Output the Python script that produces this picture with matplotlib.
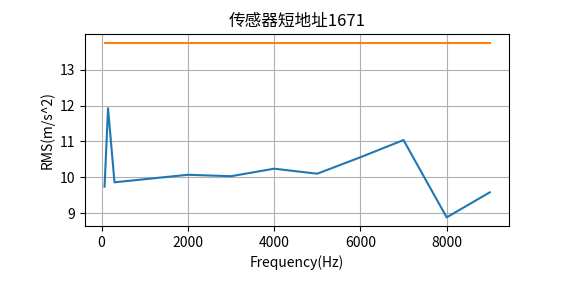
import matplotlib
matplotlib.use("Agg")
import matplotlib.pyplot as plt

plt.rcParams['font.family'] = ['Noto Sans CJK SC', 'DejaVu Sans']
plt.rcParams['axes.unicode_minus'] = False

# Data
freq = [70, 150, 300, 2000, 3000, 4000, 5000, 6000, 7000, 8000, 9000]
rms = [9.74, 11.93, 9.86, 10.07, 10.03, 10.24, 10.10, 10.56, 11.04, 8.88, 9.58]
threshold = [13.76] * len(freq)

fig = plt.figure(figsize=(5.65, 2.83), dpi=100)
ax = fig.add_axes([0.151, 0.201, 0.750, 0.679])

ax.plot(freq, rms)
ax.plot(freq, threshold)

ax.set_title('传感器短地址1671', fontsize=12)
ax.set_xlabel('Frequency(Hz)', fontsize=10)
ax.set_ylabel('RMS(m/s^2)', fontsize=10)
ax.set_xticks([0, 2000, 4000, 6000, 8000])
ax.set_yticks([9, 10, 11, 12, 13])
ax.grid(True)

fig.savefig('out.png', dpi=100)
